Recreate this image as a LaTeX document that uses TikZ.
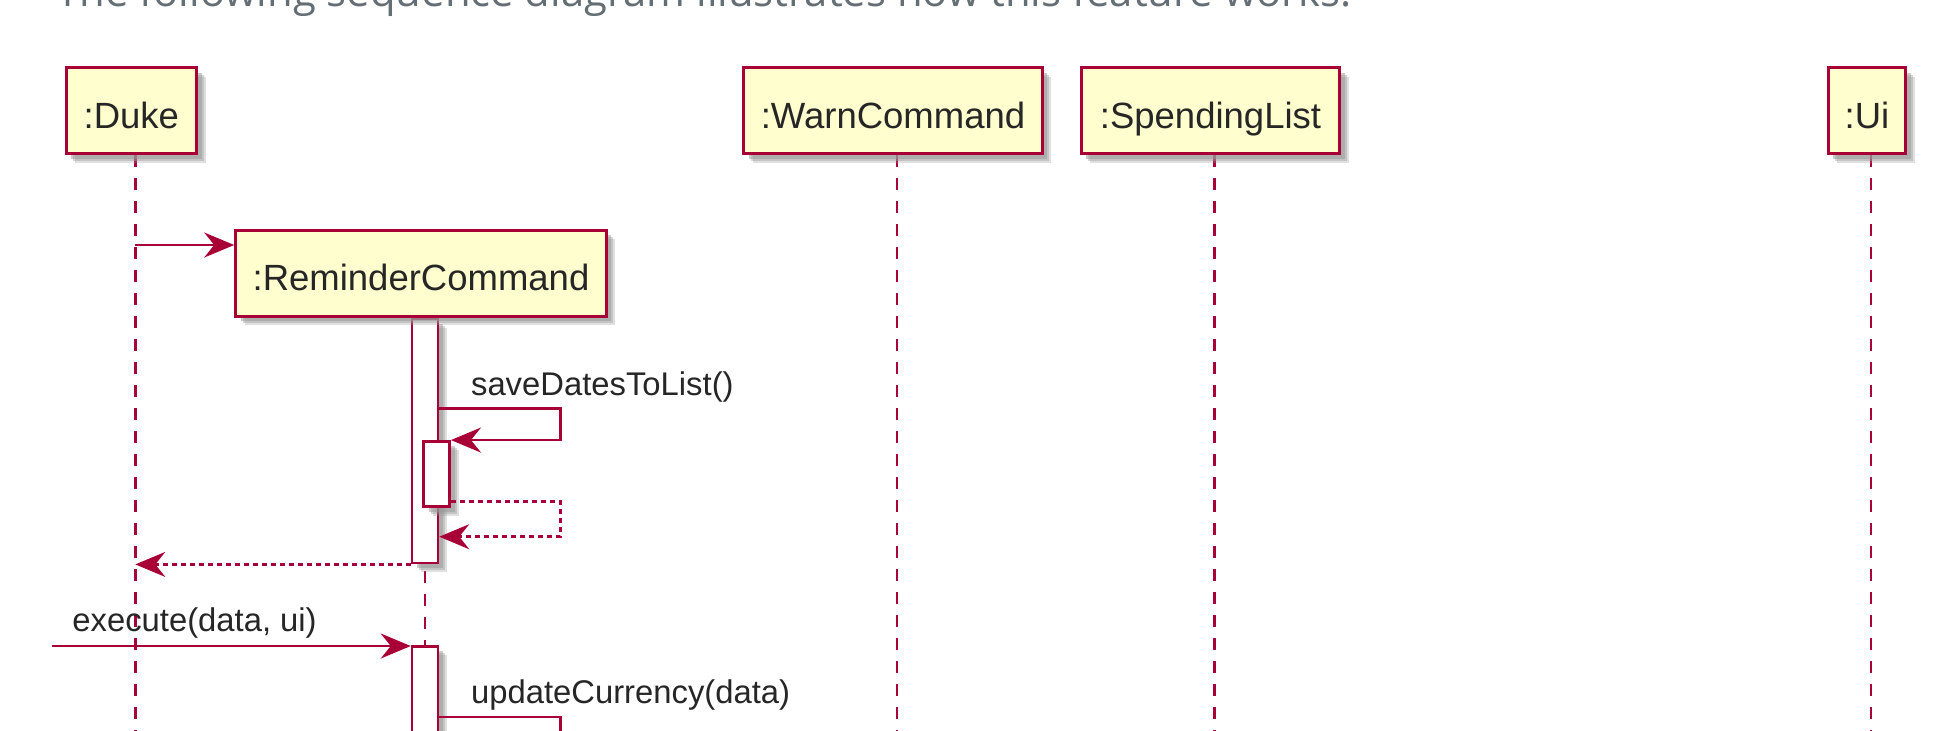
\documentclass[tikz,border=0pt]{standalone}
\usepackage{fontspec}
\setmainfont{Liberation Sans}
\newfontfamily\introfont{Open Sans}
\usetikzlibrary{arrows.meta,calc,positioning,backgrounds,shadows}
\definecolor{umlred}{HTML}{A80036}
\definecolor{umlfill}{HTML}{FEFECE}
\definecolor{muted}{HTML}{646E75}

\begin{document}
\begin{tikzpicture}[x=0.5pt,y=-0.5pt,>={Stealth[length=15pt,width=12.5pt,inset=5pt]},
  umlshadow/.style={drop shadow={shadow xshift=4.5pt,shadow yshift=-4.5pt,fill=black!40,opacity=.3},
    drop shadow={shadow xshift=3.5pt,shadow yshift=-3.5pt,fill=black!40,opacity=.4},
    drop shadow={shadow xshift=2.5pt,shadow yshift=-2.5pt,fill=black!40,opacity=.5}},
  part/.style={draw=umlred,line width=1.5pt,fill=umlfill,minimum height=43pt,inner sep=0pt,text height=17.5pt,text depth=0pt,font=\fontsize{18.25pt}{21pt}\selectfont,text=black!85,umlshadow},
  bar/.style={draw=umlred,line width=1.25pt,fill=white,minimum width=13pt,inner sep=0pt,umlshadow},
  lifeline/.style={umlred,line width=1.25pt,dash pattern=on 6pt off 5.5pt},
  msg/.style={->,umlred,line width=1.25pt},
  ret/.style={msg,dash pattern=on 2.5pt off 2pt},
  lbl/.style={anchor=base west,inner sep=0pt,text=black!85,font=\fontsize{16.4pt}{19pt}\selectfont}]
\useasboundingbox (0,0) rectangle (1954,730);
\clip (0,0) rectangle (1954,730);
\node[anchor=base west,inner sep=0pt,text=muted,font=\introfont\fontsize{20.9pt}{25pt}\selectfont] (intro) at (56,6) {The following sequence diagram illustrates how this feature works.};
\node[part,minimum width=65.2pt] (duke) at (131.3,110.5) {:Duke};
\node[part,minimum width=185.3pt] (rem) at (421,273.4) {:ReminderCommand};
\node[part,minimum width=149.2pt] (warn) at (893,110.5) {:WarnCommand};
\node[part,minimum width=129.3pt] (spend) at (1210.5,110.5) {:SpendingList};
\node[part,minimum width=38.8pt] (ui) at (1867,110.5) {:Ui};
\foreach \p in {duke,rem,warn,spend,ui} \coordinate (\p-ll) at ([xshift=2pt]\p.south);
\begin{scope}[on background layer]
\fill[white] (0,0) rectangle (1954,730);
\foreach \p in {duke,rem,warn,spend,ui} \draw[lifeline] (\p-ll) -- ++(0,620);
\node[bar,minimum height=122pt,anchor=north] (act1) at (rem-ll) {};
\node[bar,minimum height=32.7pt] (act2) at ($(rem-ll |- 0,474)+(11.7,0)$) {};
\node[bar,minimum height=60pt,anchor=north] (act3) at (rem-ll |- 0,645) {};
\end{scope}
\draw[msg] (duke-ll |- 0,245) -- (rem.west |- 0,245);
\draw[msg] (act1.east |- 0,408.3) -- ++(121,0) |- (act2.north east);
\node[lbl] (m1) at (470.7,395) {saveDatesToList()};
\draw[ret] (act2.east |- 0,501.7) -- ++(109.5,0) |- (act1.east |- 0,536.7);
\draw[ret] (act1.south west) -- (act1.south west -| duke-ll);
\coordinate (exec) at (52,646);
\draw[msg] (exec) -- (exec -| act3.west);
\node[lbl] (m2) at (72,631.7) {execute(data, ui)};
\draw[msg,-] (act3.east |- 0,717) -- ++(121,0) -- ++(0,40);
\node[lbl] (m3) at (470.7,703) {updateCurrency(data)};
\end{tikzpicture}
\end{document}
